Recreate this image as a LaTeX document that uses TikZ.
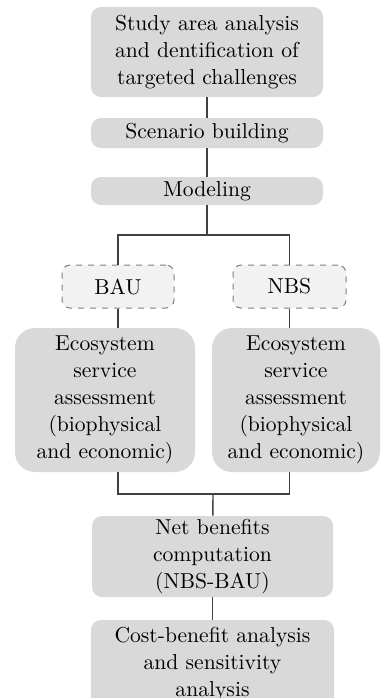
\documentclass[tikz,border=0pt]{standalone}
\usetikzlibrary{positioning, calc}

\definecolor{boxgray}{HTML}{D9D9D9}
\definecolor{dashgray}{HTML}{F2F2F2}
\definecolor{linegray}{HTML}{404040}

\begin{document}
\begin{tikzpicture}[x=0.5pt, y=-0.5pt,
    every node/.style={font=\fontsize{10.8}{13.5}\selectfont, align=center, inner sep=0pt},
    stage/.style={fill=boxgray, rounded corners=5pt},
    scen/.style={fill=dashgray, draw=gray, dashed, rounded corners=4pt, line width=0.5pt},
    assess/.style={fill=boxgray, rounded corners=10pt},
    link/.style={draw=linegray, line width=0.7pt}]
    \useasboundingbox (0,0) rectangle (384,698);
    \clip (0,0) rectangle (384,698);
    \node[stage, minimum width=116pt, minimum height=45pt] (study) at (207,52)
        {Study area analysis\\and dentification of\\targeted challenges};
    \node[stage, minimum width=116pt, minimum height=15pt] (build) at (207,133) {Scenario building};
    \node[stage, minimum width=116pt, minimum height=14pt] (model) at (207,191) {Modeling};
    \node[scen, minimum width=56pt, minimum height=21.5pt] (bau) at (118,286.5) {BAU};
    \node[scen, minimum width=56.5pt, minimum height=21.5pt] (nbs) at (289.5,286.5) {NBS};
    \node[assess, minimum width=90pt, minimum height=72pt] (ecoL) at (105,400)
        {Ecosystem\\service\\assessment\\(biophysical\\and economic)};
    \node[assess, minimum width=84pt, minimum height=72pt] (ecoR) at (296,400)
        {Ecosystem\\service\\assessment\\(biophysical\\and economic)};
    \node[stage, minimum width=120.5pt, minimum height=40.5pt] (net) at (212.5,556.5)
        {Net benefits\\computation\\(NBS-BAU)};
    \node[stage, minimum width=121.5pt, minimum height=44pt] (cba) at (212.5,664)
        {Cost-benefit analysis\\and sensitivity\\analysis};
    \coordinate (split) at (207,235);
    \coordinate (join) at (213,494);
    \draw[link] (study) -- (build);
    \draw[link] (build) -- (model);
    \draw[link] (model) -- (split);
    \draw[link] (bau.north) |- (split) -| (nbs.north);
    \draw[link] (bau.south) -- (bau |- ecoL.north);
    \draw[link] (nbs.south) -- (nbs |- ecoR.north);
    \draw[link] (bau |- ecoL.south) |- (join);
    \draw[link] (nbs |- ecoR.south) |- (join);
    \draw[link] (join) -- (net);
    \draw[link] (net) -- (net |- cba.north);
\end{tikzpicture}
\end{document}
